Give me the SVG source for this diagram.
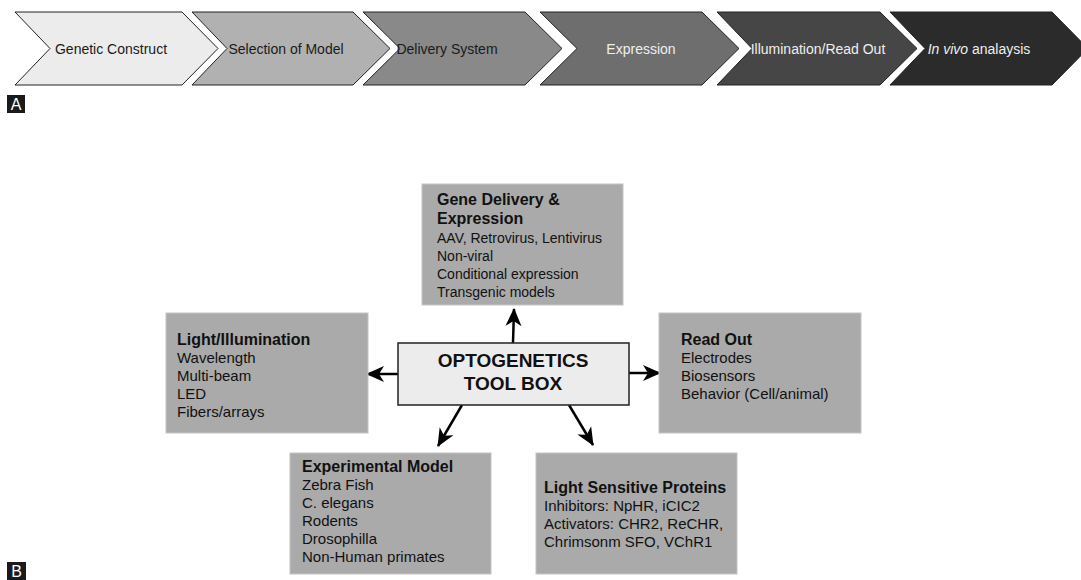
<svg xmlns="http://www.w3.org/2000/svg" width="1081" height="580" viewBox="0 0 1081 580">
<defs>
<style>
.chev{stroke:#222;stroke-width:1}
.ct{font-family:"Liberation Sans",Arial,sans-serif;font-size:14px;text-anchor:middle}
.box{fill:#aaaaaa;stroke:#c4c4c4;stroke-width:1}
.t{font-family:"Liberation Sans",Arial,sans-serif;font-size:15px;fill:#111}
.g{font-size:14px}
.b{font-weight:bold;font-size:16px}
.conn{stroke:#000;stroke-width:2.5;fill:none;marker-end:url(#ah)}
.lbl{font-family:"Liberation Sans",Arial,sans-serif;font-size:16px;fill:#fff}
</style>
<marker id="ah" viewBox="0 0 18 18" refX="17" refY="9" markerWidth="18" markerHeight="18" markerUnits="userSpaceOnUse" orient="auto">
<path d="M0,1 L18,9 L0,17 L5,9 Z" fill="#000"/>
</marker>
</defs>
<rect width="1081" height="580" fill="#fff"/>

<g id="chevron1"><polygon class="chev" fill="#ececec" points="15,12 182,12 218,48.5 182,85 15,85 50,48.5"/><text class="ct" x="111" y="53.5" fill="#1a1a1a">Genetic Construct</text></g>
<g id="chevron2"><polygon class="chev" fill="#b1b1b1" points="192,12 353,12 390,48.5 353,85 192,85 227,48.5"/><text class="ct" x="286" y="53.5" fill="#1a1a1a">Selection of Model</text></g>
<g id="chevron3"><polygon class="chev" fill="#898989" points="363,12 525,12 562,48.5 525,85 363,85 400,48.5"/><text class="ct" x="447" y="53.5" fill="#1a1a1a">Delivery System</text></g>
<g id="chevron4"><polygon class="chev" fill="#6e6e6e" points="540,12 702,12 739,48.5 702,85 540,85 577,48.5"/><text class="ct" x="641" y="53.5" fill="#eeeeee">Expression</text></g>
<g id="chevron5"><polygon class="chev" fill="#464646" points="717,12 880,12 917,48.5 880,85 717,85 752,48.5"/><text class="ct" x="818" y="53.5" fill="#eeeeee">Illumination/Read Out</text></g>
<g id="chevron6"><polygon class="chev" fill="#2b2b2b" points="890,12 1052,12 1088,48.5 1052,85 890,85 925,48.5"/><text class="ct" x="979" y="53.5" fill="#eeeeee"><tspan font-style="italic">In vivo</tspan> analaysis</text></g>

<g id="labelA"><rect x="7" y="95" width="18" height="18" fill="#1a1a1a"/><text class="lbl" x="16" y="110" text-anchor="middle">A</text></g>
<g id="labelB"><rect x="7" y="562" width="19" height="18" fill="#1a1a1a"/><text class="lbl" x="16.5" y="577" text-anchor="middle">B</text></g>

<g id="connectors">
<line class="conn" x1="513" y1="343" x2="514" y2="309"/>
<line class="conn" x1="398" y1="374" x2="367" y2="374"/>
<line class="conn" x1="629" y1="373" x2="660" y2="373"/>
<line class="conn" x1="462" y1="405" x2="438" y2="446"/>
<line class="conn" x1="569" y1="405" x2="593" y2="445"/>
</g>

<g id="center"><rect x="398" y="343" width="231" height="62" fill="#ececec" stroke="#222" stroke-width="1.5"/>
<text class="t" x="513" y="367" text-anchor="middle" style="font-size:19px;font-weight:bold">OPTOGENETICS</text>
<text class="t" x="513" y="390" text-anchor="middle" style="font-size:19px;font-weight:bold">TOOL BOX</text></g>

<g id="gene"><rect class="box" x="422" y="184" width="201" height="121"/>
<text class="t g" x="437" y="205"><tspan class="b">Gene Delivery &amp;</tspan><tspan class="b" x="437" dy="19">Expression</tspan><tspan x="437" dy="19">AAV, Retrovirus, Lentivirus</tspan><tspan x="437" dy="18">Non-viral</tspan><tspan x="437" dy="18">Conditional expression</tspan><tspan x="437" dy="18">Transgenic models</tspan></text></g>

<g id="light"><rect class="box" x="166" y="313" width="202" height="120"/>
<text class="t" x="177" y="345"><tspan class="b">Light/Illumination</tspan><tspan x="177" dy="18">Wavelength</tspan><tspan x="177" dy="18">Multi-beam</tspan><tspan x="177" dy="18">LED</tspan><tspan x="177" dy="18">Fibers/arrays</tspan></text></g>

<g id="readout"><rect class="box" x="659" y="313" width="202" height="120"/>
<text class="t" x="681" y="345"><tspan class="b">Read Out</tspan><tspan x="681" dy="18">Electrodes</tspan><tspan x="681" dy="18">Biosensors</tspan><tspan x="681" dy="18">Behavior (Cell/animal)</tspan></text></g>

<g id="model"><rect class="box" x="290" y="453" width="201" height="121"/>
<text class="t" x="302" y="472"><tspan class="b">Experimental Model</tspan><tspan x="302" dy="18">Zebra Fish</tspan><tspan x="302" dy="18">C. elegans</tspan><tspan x="302" dy="18">Rodents</tspan><tspan x="302" dy="18">Drosophilla</tspan><tspan x="302" dy="18">Non-Human primates</tspan></text></g>

<g id="proteins"><rect class="box" x="536" y="453" width="201" height="121"/>
<text class="t" x="544" y="493"><tspan class="b">Light Sensitive Proteins</tspan><tspan x="544" dy="18">Inhibitors: NpHR, iCIC2</tspan><tspan x="544" dy="18">Activators: CHR2, ReCHR,</tspan><tspan x="544" dy="18">Chrimsonm SFO, VChR1</tspan></text></g>
</svg>
